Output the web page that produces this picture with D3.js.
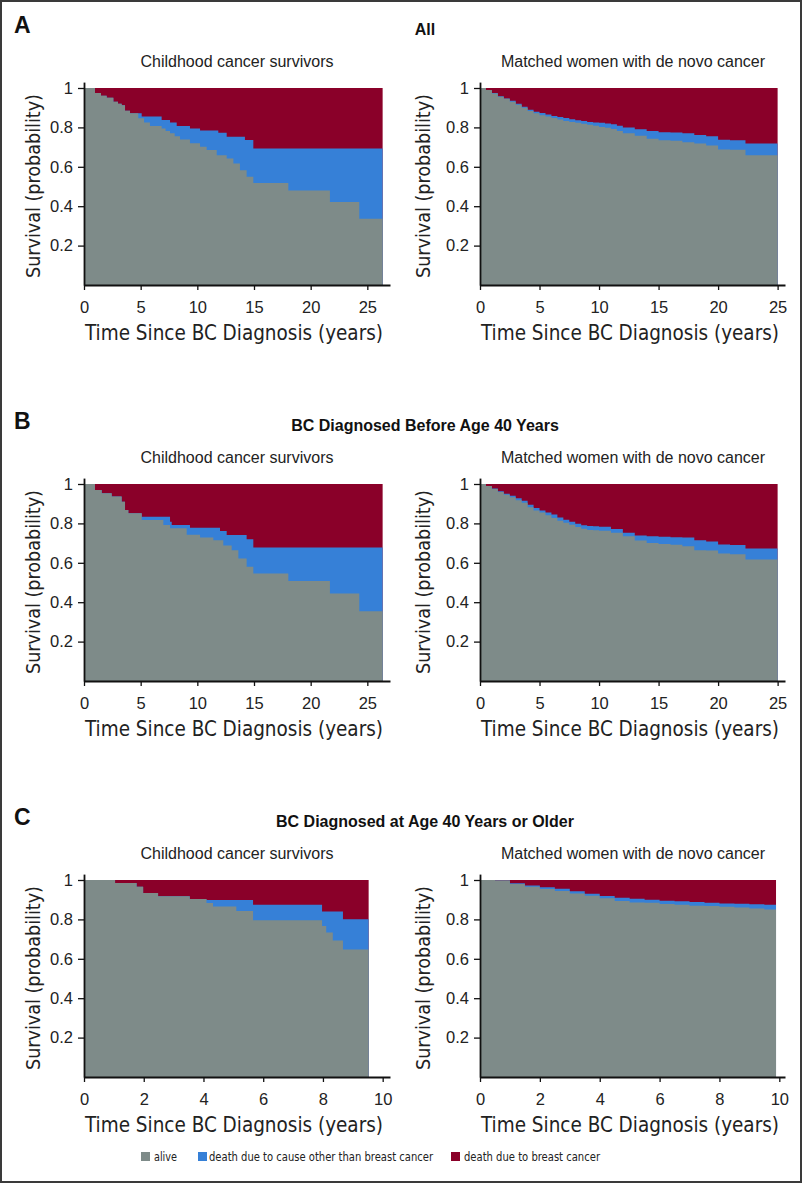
<!DOCTYPE html>
<html><head><meta charset="utf-8">
<script src="https://cdn.jsdelivr.net/npm/d3@7"></script>
<style>body{margin:0;background:#fff} svg{display:block}</style>
</head><body><svg id="chart" width="803" height="1185"></svg>
<script>
// ---------- text / labels ----------
const sectionLetters = ["A", "B", "C"];
const sectionTitles = ["All", "BC Diagnosed Before Age 40 Years", "BC Diagnosed at Age 40 Years or Older"];
const groupTitles = ["Childhood cancer survivors", "Matched women with de novo cancer"];
const seriesNames = ["alive", "death due to cause other than breast cancer", "death due to breast cancer"];
const yTickValues = [0.2, 0.4, 0.6, 0.8, 1];
const yTickLabels = ["0.2", "0.4", "0.6", "0.8", "1"];
const xTicksLong = [0, 5, 10, 15, 20, 25];
const xTicksShort = [0, 2, 4, 6, 8, 10];
const xAxisTitle = "Time Since BC Diagnosis (years)";
const yAxisTitle = "Survival (probability)";

// ---------- data: step functions (time in years, probability) ----------
// "alive" = gray top; "top" = alive + death from other cause (blue top); rest up to 1 = breast cancer death
const allCcsTime  = [0, 0.97, 1.5, 2.0, 2.59, 3.0, 3.32, 3.62, 4.06, 4.79, 5.09, 5.3, 5.82, 6.85, 7.2, 7.59, 8.0, 8.18, 8.47, 9.35, 10.24, 10.82, 11.71, 11.85, 12.59, 13.18, 13.76, 14.2, 14.35, 14.94, 18.03, 21.7, 24.29, 26.35];
const allCcsAlive = [1, .974, .961, .95, .93, .92, .912, .885, .872, .847, .847, .825, .807, .795, .782, .770, .755, .755, .739, .719, .702, .685, .659, .659, .642, .617, .583, .583, .549, .518, .48, .421, .336, .336];
const allCcsTop   = [1, .974, .961, .95, .93, .92, .912, .885, .872, .872, .855, .855, .855, .838, .838, .825, .825, .807, .807, .795, .784, .784, .784, .773, .753, .753, .753, .736, .736, .693, .693, .693, .693, .693];

const allMatTime  = [0, 0.5, 1, 1.5, 2, 2.5, 3, 3.5, 4, 4.5, 5, 5.5, 6, 6.5, 7, 7.5, 8, 8.5, 9, 9.5, 10, 10.5, 11, 11.5, 12, 13, 14, 15, 16, 17, 18, 19, 20, 21, 22.3, 25];
const allMatAlive = [1, .99, .972, .956, .945, .930, .915, .900, .883, .872, .862, .855, .848, .840, .833, .828, .823, .818, .813, .808, .802, .798, .792, .782, .770, .758, .742, .735, .732, .725, .718, .708, .688, .686, .659, .659];
const allMatTop   = [1, .99, .974, .958, .947, .935, .920, .905, .890, .880, .873, .866, .858, .853, .848, .842, .836, .832, .828, .825, .823, .820, .816, .808, .800, .790, .782, .776, .774, .770, .762, .755, .737, .735, .718, .718];

const u40CcsTime  = [0, .97, 1.56, 2.44, 3.32, 3.62, 3.91, 4.65, 5.09, 7.0, 7.59, 7.74, 9.06, 9.35, 10.24, 11.41, 12.0, 12.29, 12.59, 13.03, 13.62, 14.35, 14.94, 18.03, 21.7, 24.29, 26.35];
const u40CcsAlive = [1, .969, .953, .936, .910, .868, .851, .851, .817, .792, .776, .776, .742, .742, .729, .715, .715, .688, .688, .664, .622, .580, .546, .507, .444, .354, .354];
const u40CcsTop   = [1, .969, .953, .936, .910, .868, .851, .851, .834, .834, .808, .792, .792, .778, .778, .778, .761, .761, .741, .741, .741, .720, .678, .678, .678, .678, .678];

const u40MatTime  = [0, .5, 1, 1.5, 2, 2.5, 3, 3.5, 4, 4.5, 5, 5.5, 6, 6.5, 7, 7.5, 8, 8.5, 9, 9.5, 10, 11, 12, 13, 14, 15, 16, 17, 18, 19, 20, 21, 22.3, 25];
const u40MatAlive = [1, .99, .975, .96, .946, .933, .918, .905, .882, .866, .855, .842, .828, .814, .803, .793, .782, .773, .767, .765, .763, .752, .735, .713, .700, .696, .692, .684, .664, .662, .647, .644, .617, .617];
const u40MatTop   = [1, .99, .977, .963, .95, .94, .928, .915, .895, .878, .865, .855, .845, .830, .818, .808, .798, .79, .787, .785, .783, .772, .752, .738, .735, .732, .730, .728, .715, .708, .693, .690, .673, .673];

const o40CcsTime  = [0, 1.04, 1.76, 1.98, 2.48, 3.54, 4.10, 4.32, 5.10, 5.66, 7.97, 8.11, 8.33, 8.67, 9.53];
const o40CcsAlive = [1, .985, .966, .934, .917, .903, .883, .865, .843, .796, .767, .733, .693, .647, .647];
const o40CcsTop   = [1, .985, .966, .934, .917, .903, .898, .898, .898, .874, .840, .840, .840, .801, .801];

const o40MatTime  = [0, .5, 1, 1.5, 2, 2.5, 3, 3.5, 4, 4.5, 5, 5.5, 6, 6.5, 7, 7.5, 8, 8.5, 9, 9.5, 9.89];
const o40MatAlive = [1, .997, .98, .966, .954, .944, .932, .920, .907, .894, .886, .884, .878, .875, .869, .868, .864, .860, .855, .850, .847];
const o40MatTop   = [1, .998, .984, .972, .963, .956, .943, .93, .919, .91, .905, .9, .895, .892, .888, .884, .881, .879, .877, .875, .873];

// ---------- layout ----------
const colors = ["#7e8b89", "#3680d7", "#8a0029"];
const narrow = "'Liberation Sans Narrow','Arial Narrow','DejaVu Sans Condensed',sans-serif";
const sans = "'Liberation Sans',Arial,Helvetica,sans-serif";
const sectionTops = [88, 484, 880];
const plotH = 197;
const cols = [{left: 84, end: 390, yTitleX: 40, xTitleX: 234, titleX: 237}, {left: 480, end: 785, yTitleX: 430, xTitleX: 630, titleX: 633}];

const panels = [
  {sec: 0, col: 0, t: allCcsTime, alive: allCcsAlive, top: allCcsTop, xMax: 27, ticks: xTicksLong},
  {sec: 0, col: 1, t: allMatTime, alive: allMatAlive, top: allMatTop, xMax: 25.62, ticks: xTicksLong},
  {sec: 1, col: 0, t: u40CcsTime, alive: u40CcsAlive, top: u40CcsTop, xMax: 27, ticks: xTicksLong},
  {sec: 1, col: 1, t: u40MatTime, alive: u40MatAlive, top: u40MatTop, xMax: 25.62, ticks: xTicksLong},
  {sec: 2, col: 0, t: o40CcsTime, alive: o40CcsAlive, top: o40CcsTop, xMax: 10.245, ticks: xTicksShort},
  {sec: 2, col: 1, t: o40MatTime, alive: o40MatAlive, top: o40MatTop, xMax: 10.19, ticks: xTicksShort}
];

const svg = d3.select("#chart");
svg.append("rect").attr("x", 1).attr("y", 1).attr("width", 800).attr("height", 1181)
  .attr("fill", "#fff").attr("stroke", "#3a3a3a").attr("stroke-width", 2);

sectionTops.forEach((top, i) => {
  svg.append("text").attr("x", 14).attr("y", top - 55).text(sectionLetters[i])
    .attr("font-family", sans).attr("font-weight", "bold").attr("font-size", 23).attr("fill", "#111");
  svg.append("text").attr("x", 425).attr("y", top - 53).attr("text-anchor", "middle").text(sectionTitles[i])
    .attr("font-family", sans).attr("font-weight", "bold").attr("font-size", 16).attr("fill", "#111");
  cols.forEach((c, j) => {
    svg.append("text").attr("x", c.titleX).attr("y", top - 21)
      .attr("text-anchor", "middle").text(groupTitles[j])
      .attr("font-family", sans).attr("font-size", 16).attr("fill", "#222");
  });
});

panels.forEach(p => {
  const c = cols[p.col];
  const top = sectionTops[p.sec];
  const bottom = top + plotH;
  const x = d3.scaleLinear().domain([0, p.xMax]).range([c.left, c.end]);
  const y = d3.scaleLinear().domain([0, 1.03]).range([bottom, bottom - plotH * 1.03]);
  const data = p.t.map((t, i) => ({t, alive: p.alive[i], top: p.top[i]}));
  const g = svg.append("g");
  const mk = acc => d3.area().curve(d3.curveStepAfter).x(d => x(d.t)).y0(y(0)).y1(acc);
  g.append("path").datum(data).attr("fill", colors[2]).attr("d", mk(() => y(1)));
  g.append("path").datum(data).attr("fill", colors[1]).attr("d", mk(d => y(d.top)));
  g.append("path").datum(data).attr("fill", colors[0]).attr("d", mk(d => y(d.alive)));

  const xa = g.append("g").attr("transform", `translate(0,${bottom})`)
    .call(d3.axisBottom(x).tickValues(p.ticks).tickFormat(d3.format("d")).tickSize(5).tickSizeOuter(0).tickPadding(11));
  const ya = g.append("g").attr("transform", `translate(${c.left},0)`)
    .call(d3.axisLeft(y).tickValues(yTickValues).tickFormat((d, i) => yTickLabels[i]).tickSize(6).tickSizeOuter(0).tickPadding(5));
  [xa, ya].forEach(a => {
    a.select(".domain").attr("stroke", "#111").attr("stroke-width", 1.8);
    a.selectAll(".tick line").attr("stroke", "#111").attr("stroke-width", 1.3);
    a.selectAll(".tick text").attr("font-family", sans).attr("font-size", 16.5).attr("fill", "#222");
  });

  g.append("text").attr("x", c.xTitleX).attr("y", bottom + 55).attr("text-anchor", "middle")
    .attr("font-family", narrow).attr("font-size", 21).attr("fill", "#222")
    .attr("textLength", 298).attr("lengthAdjust", "spacingAndGlyphs").text(xAxisTitle);
  g.append("text").attr("transform", `translate(${c.yTitleX},${bottom - 99}) rotate(-90)`)
    .attr("text-anchor", "middle").attr("font-family", narrow).attr("font-size", 20).attr("fill", "#222")
    .attr("textLength", 184).attr("lengthAdjust", "spacingAndGlyphs").text(yAxisTitle);
});

// legend
const legendItems = [
  {sq: 141, tx: 154, w: 23},
  {sq: 198, tx: 209, w: 224},
  {sq: 451, tx: 464, w: 136}
];
legendItems.forEach((l, i) => {
  svg.append("rect").attr("x", l.sq).attr("y", 1152).attr("width", 9).attr("height", 9).attr("fill", colors[i]);
  svg.append("text").attr("x", l.tx).attr("y", 1161).text(seriesNames[i])
    .attr("font-family", narrow).attr("font-size", 12).attr("fill", "#222")
    .attr("textLength", l.w).attr("lengthAdjust", "spacingAndGlyphs");
});
</script></body></html>
